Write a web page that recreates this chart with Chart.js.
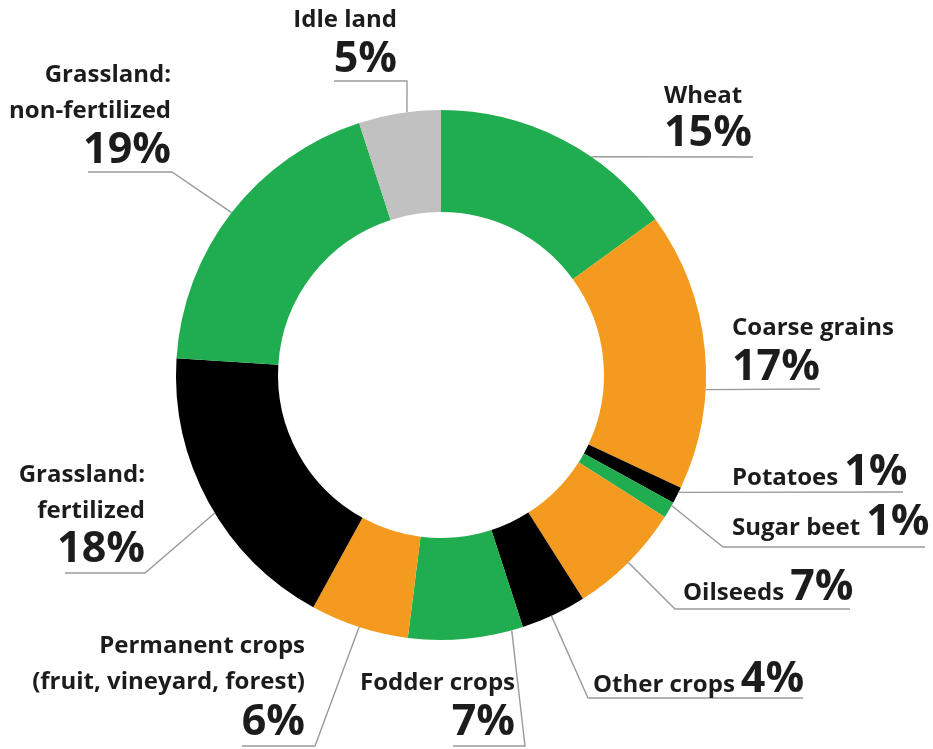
<!DOCTYPE html>
<html><head><meta charset="utf-8">
<script src="https://cdn.jsdelivr.net/npm/chart.js@4/dist/chart.umd.min.js"></script>
<style>html,body{margin:0;padding:0;background:#fff;overflow:hidden}#wrap{width:933px;height:749px}</style>
</head><body><div id="wrap"><canvas id="c" width="933" height="749"></canvas></div>
<script>
// ---- data ----
const categories = [
  ['Wheat'], ['Coarse grains'], ['Potatoes'], ['Sugar beet'], ['Oilseeds'],
  ['Other crops'], ['Fodder crops'], ['Permanent crops', '(fruit, vineyard, forest)'],
  ['Grassland:', 'fertilized'], ['Grassland:', 'non-fertilized'], ['Idle land']
];
const shares = [15, 17, 1, 1, 7, 4, 7, 6, 18, 19, 5];
const sliceColors = ['#20ad4f', '#f49b1f', '#000000', '#20ad4f', '#f49b1f', '#000000',
                     '#20ad4f', '#f49b1f', '#000000', '#20ad4f', '#c0c1c0'];

// ---- label layout (annotation placement only) ----
const labelLayout = [
  {mode:'stack',  align:'left',  x:664, nameY:[103],      pctY:146, f:0.64, pts:[[753,157]]},
  {mode:'stack',  align:'left',  x:732, nameY:[335],      pctY:380, f:0.64, pts:[[820,389]]},
  {mode:'inline', align:'left',  x:732, y:485,                      f:0.30, pts:[[903,492]]},
  {mode:'inline', align:'left',  x:732, y:535,                      f:0.20, pts:[[723,547],[925,547]]},
  {mode:'inline', align:'left',  x:683, y:600,                      f:0.50, pts:[[675,609],[850,609]]},
  {mode:'inline', align:'left',  x:593, y:692,                      f:0.54, pts:[[588,698],[803,698]]},
  {mode:'stack',  align:'right', x:515, nameY:[690],      pctY:735, f:0.10, pts:[[525,746],[453,746]]},
  {mode:'stack',  align:'right', x:305, nameY:[653,689],  pctY:735, f:0.50, pts:[[315,746],[242,746]]},
  {mode:'stack',  align:'right', x:145, nameY:[482,518],  pctY:562, f:0.46, pts:[[145,573],[65,573]]},
  {mode:'stack',  align:'right', x:171, nameY:[82,118],   pctY:163, f:0.50, pts:[[172,172],[88,172]]},
  {mode:'stack',  align:'right', x:397, nameY:[27],       pctY:72,  f:0.59, pts:[[407,81],[334,81]]}
];

const NAME_FONT = '700 24px "Open Sans"';
const PCT_FONT = '700 43px "Open Sans"';
const TEXT_COLOR = '#1c1c1c';

const calloutPlugin = {
  id: 'callouts',
  afterDatasetsDraw(chart) {
    const ctx = chart.ctx;
    const meta = chart.getDatasetMeta(0);
    const values = chart.data.datasets[0].data;
    meta.data.forEach((arc, i) => {
      const L = labelLayout[i];
      if (!L) return;
      const p = arc.getProps(['x','y','startAngle','endAngle','outerRadius'], true);
      const a = p.startAngle + L.f * (p.endAngle - p.startAngle);
      const sx = p.x + p.outerRadius * Math.cos(a);
      const sy = p.y + p.outerRadius * Math.sin(a);
      ctx.save();
      ctx.strokeStyle = '#9a9a9a';
      ctx.lineWidth = 1.4;
      ctx.beginPath();
      ctx.moveTo(sx, sy);
      L.pts.forEach(q => ctx.lineTo(q[0], q[1]));
      ctx.stroke();

      const name = chart.data.labels[i];
      const pct = values[i] + '%';
      ctx.fillStyle = TEXT_COLOR;
      ctx.textBaseline = 'alphabetic';
      if (L.mode === 'inline') {
        ctx.textAlign = 'left';
        ctx.font = NAME_FONT;
        const txt = name.join(' ');
        ctx.fillText(txt, L.x, L.y);
        const w = ctx.measureText(txt).width;
        ctx.font = PCT_FONT;
        ctx.fillText(pct, L.x + w + 6, L.y);
      } else {
        ctx.textAlign = L.align;
        ctx.font = NAME_FONT;
        name.forEach((line, k) => ctx.fillText(line, L.x, L.nameY[k]));
        ctx.font = PCT_FONT;
        ctx.fillText(pct, L.x, L.pctY);
      }
      ctx.restore();
    });
  }
};

function build() {
  new Chart(document.getElementById('c'), {
    type: 'doughnut',
    data: {
      labels: categories,
      datasets: [{
        data: shares,
        backgroundColor: sliceColors,
        borderWidth: 0,
        hoverOffset: 0
      }]
    },
    options: {
      responsive: false,
      animation: false,
      cutout: '61.5%',
      layout: {padding: {top: 110, bottom: 109, left: 176, right: 227}},
      plugins: {legend: {display: false}, tooltip: {enabled: false}},
      events: []
    },
    plugins: [calloutPlugin]
  });
}
Promise.all([
  document.fonts.load(NAME_FONT),
  document.fonts.load(PCT_FONT)
]).then(build, build);
</script>
</body></html>
